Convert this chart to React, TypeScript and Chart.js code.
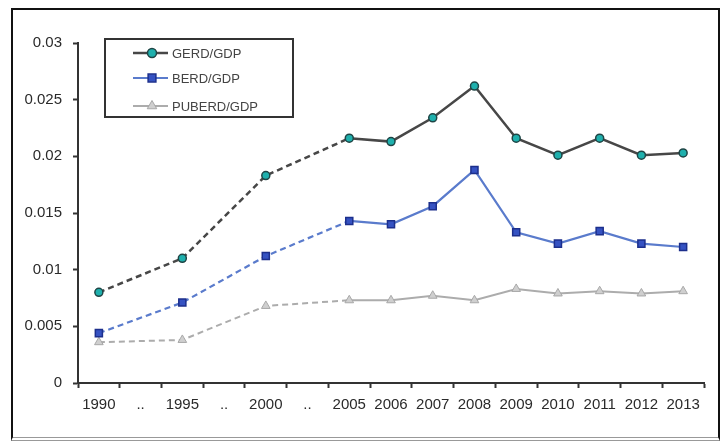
import React, { useEffect, useRef } from 'react';
import { Chart, registerables } from 'chart.js';
import { drawPoint } from 'chart.js/helpers';

Chart.register(...registerables);

const categories = ['1990', '..', '1995', '..', '2000', '..', '2005', '2006', '2007', '2008', '2009', '2010', '2011', '2012', '2013'];
const gerdGdp = [0.0080, null, 0.0110, null, 0.0183, null, 0.0216, 0.0213, 0.0234, 0.0262, 0.0216, 0.0201, 0.0216, 0.0201, 0.0203];
const berdGdp = [0.0044, null, 0.0071, null, 0.0112, null, 0.0143, 0.0140, 0.0156, 0.0188, 0.0133, 0.0123, 0.0134, 0.0123, 0.0120];
const puberdGdp = [0.0036, null, 0.0038, null, 0.0068, null, 0.0073, 0.0073, 0.0077, 0.0073, 0.0083, 0.0079, 0.0081, 0.0079, 0.0081];
const seriesNames = ['GERD/GDP', 'BERD/GDP', 'PUBERD/GDP'];
const yTickLabels = ['0', '0.005', '0.01', '0.015', '0.02', '0.025', '0.03'];
const dashedUntilIndex = 6; // segments up to 2005 are dashed

const FONT = "'Liberation Sans', Arial, sans-serif";

const legendPlugin = {
  id: 'boxLegend',
  afterDraw(chart: any) {
    const ctx = chart.ctx;
    const area = chart.chartArea;
    const x0 = area.left + 27;
    const y0 = area.top - 4;
    const w = 188;
    const h = 78;
    ctx.save();
    ctx.fillStyle = '#ffffff';
    ctx.fillRect(x0, y0, w, h);
    ctx.strokeStyle = '#333333';
    ctx.lineWidth = 2;
    ctx.strokeRect(x0, y0, w, h);
    const rows = [14, 39, 67];
    chart.data.datasets.forEach((ds: any, i: number) => {
      const y = y0 + rows[i];
      ctx.strokeStyle = ds.borderColor;
      ctx.lineWidth = ds.borderWidth;
      ctx.setLineDash([]);
      ctx.beginPath();
      ctx.moveTo(x0 + 28, y);
      ctx.lineTo(x0 + 63, y);
      ctx.stroke();
      ctx.fillStyle = ds.pointBackgroundColor;
      ctx.strokeStyle = ds.pointBorderColor;
      ctx.lineWidth = ds.pointBorderWidth;
      drawPoint(ctx, { pointStyle: ds.pointStyle, radius: ds.pointRadius + 0.5, borderWidth: ds.pointBorderWidth, rotation: 0 } as any, x0 + 47, y);
      ctx.fillStyle = '#444444';
      ctx.font = `13px ${FONT}`;
      ctx.textBaseline = 'middle';
      ctx.textAlign = 'left';
      ctx.fillText(ds.label, x0 + 67, y + 1);
    });
    ctx.restore();
  },
};

export default function App() {
  const canvasRef = useRef<HTMLCanvasElement | null>(null);

  useEffect(() => {
    if (!canvasRef.current) return;
    const dash = (c: any) => (c.p1DataIndex <= dashedUntilIndex ? [6, 4] : undefined);
    const chart = new Chart(canvasRef.current, {
      type: 'line',
      data: {
        labels: categories,
        datasets: [
          {
            label: seriesNames[0],
            data: gerdGdp,
            borderColor: '#474747',
            borderWidth: 2.5,
            pointStyle: 'circle',
            pointRadius: 4,
            pointBackgroundColor: '#1fb0ad',
            pointBorderColor: '#1f4545',
            pointBorderWidth: 1.5,
            spanGaps: true,
            segment: { borderDash: dash },
          },
          {
            label: seriesNames[1],
            data: berdGdp,
            borderColor: '#5a7bcc',
            borderWidth: 2.2,
            pointStyle: 'rect',
            pointRadius: 5,
            pointBackgroundColor: '#3552c2',
            pointBorderColor: '#1c2f8c',
            pointBorderWidth: 1.5,
            spanGaps: true,
            segment: { borderDash: dash },
          },
          {
            label: seriesNames[2],
            data: puberdGdp,
            borderColor: '#acacac',
            borderWidth: 2,
            pointStyle: 'triangle',
            pointRadius: 5,
            pointBackgroundColor: '#cfcfcf',
            pointBorderColor: '#a8a8a8',
            pointBorderWidth: 1,
            spanGaps: true,
            segment: { borderDash: dash },
          },
        ] as any,
      },
      options: {
        responsive: false,
        animation: false,
        layout: { padding: { top: 33, right: 14, left: 0, bottom: 0 } },
        plugins: {
          legend: { display: false },
          tooltip: { enabled: false },
        },
        scales: {
          x: {
            offset: true,
            grid: { offset: true, drawOnChartArea: false, drawTicks: true, tickLength: 5, tickColor: '#333', tickWidth: 2 },
            border: { display: true, color: '#333', width: 2 },
            ticks: {
              autoSkip: false,
              maxRotation: 0,
              padding: 8,
              color: '#2a2a2a',
              font: { family: FONT, size: 15 },
            },
            afterFit: (s: any) => { s.height = 54; },
          },
          y: {
            min: 0,
            max: 0.03,
            ticks: {
              stepSize: 0.005,
              padding: 11,
              color: '#2a2a2a',
              font: { family: FONT, size: 15 },
              callback: (_v: any, i: number) => yTickLabels[i],
            },
            grid: { drawOnChartArea: false, drawTicks: true, tickLength: 5, tickColor: '#333', tickWidth: 2 },
            border: { display: true, color: '#333', width: 2 },
            afterFit: (s: any) => { s.width = 65; },
          },
        },
      },
      plugins: [legendPlugin],
    });
    return () => chart.destroy();
  }, []);

  return (
    <div style={{ position: 'fixed', left: 0, top: 0, width: 721, height: 446, background: '#fff' }}>
      <div
        style={{
          position: 'absolute',
          left: 11,
          top: 8,
          width: 709,
          height: 433,
          boxSizing: 'border-box',
          borderLeft: '2px solid #111',
          borderTop: '2px solid #111',
          borderRight: '2px solid #111',
          borderBottom: '4px double #999',
        }}
      >
        <canvas ref={canvasRef} width={705} height={427} style={{ display: 'block', width: 705, height: 427 }} />
      </div>
    </div>
  );
}
